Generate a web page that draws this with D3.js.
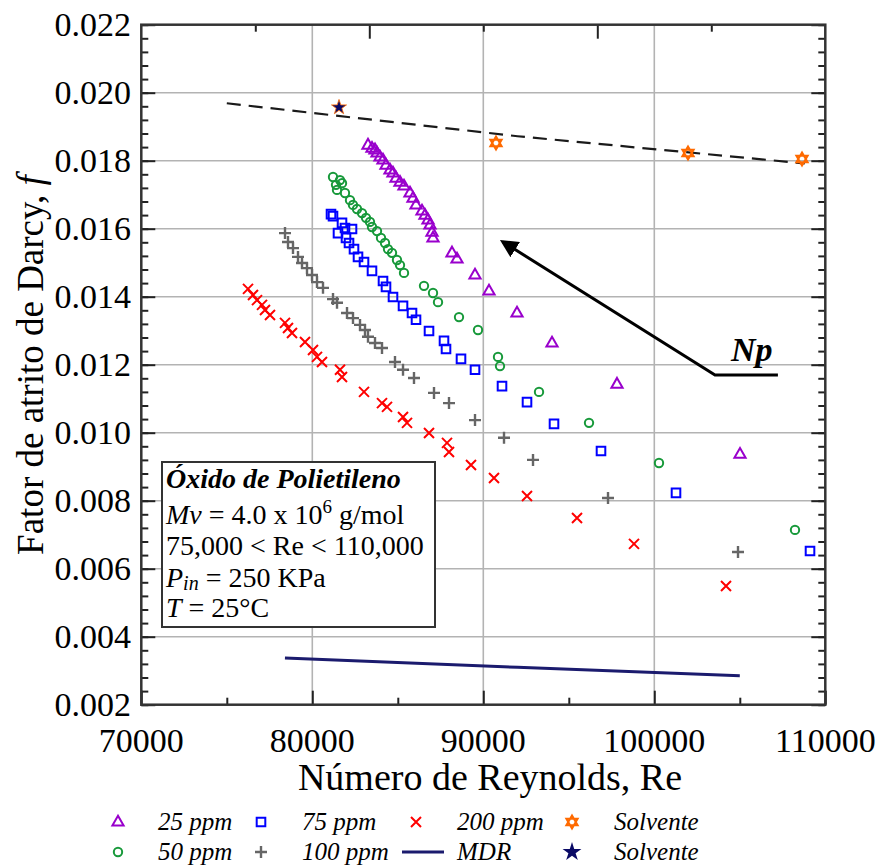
<!DOCTYPE html>
<html>
<head>
<meta charset="utf-8">
<script src="https://cdn.jsdelivr.net/npm/d3@7"></script>
<style>
  body { margin: 0; background: #fff; }
  svg text { font-family: "Liberation Serif", "Times New Roman", serif; }
</style>
</head>
<body>
<script>
// Re, f pairs
var ppm25 = [[83257,0.01846],[83491,0.01837],[83667,0.01832],[83784,0.01823],[83959,0.01811],[84135,0.01802],
  [84310,0.01787],[84544,0.01773],[84719,0.01764],[84895,0.01749],[85129,0.01737],[85363,0.01726],[85714,0.01705],
  [85889,0.01690],[86065,0.01670],[86415,0.01652],[86591,0.01640],[86766,0.01626],[86883,0.01611],[87000,0.01590],
  [87059,0.01573],[88170,0.01529],[88462,0.01511],[89515,0.01464],[90333,0.01417],[91971,0.01352],[94018,0.01264],
  [97819,0.01143],[105012,0.00937]];
var ppm50 = [[81211,0.01752],[81620,0.01743],[81386,0.01729],[81737,0.01734],[81445,0.01714],[81912,0.01705],
  [82205,0.01684],[82380,0.01670],[82614,0.01658],[82907,0.01646],[83141,0.01632],[83374,0.01620],[83491,0.01605],
  [83784,0.01593],[84018,0.01573],[84252,0.01558],[84427,0.01540],[84661,0.01529],[84953,0.01508],[85129,0.01493],
  [85363,0.01470],[86532,0.01432],[87059,0.01411],[87351,0.01384],[88579,0.01340],[89690,0.01302],[90860,0.01223],
  [90977,0.01196],[93258,0.01120],[96182,0.01029],[100275,0.00911],[108228,0.00714]];
var ppm75 = [[81094,0.01643],[81211,0.01637],[81737,0.01617],[81912,0.01602],[82322,0.01599],[81503,0.01587],
  [81971,0.01573],[82147,0.01558],[82439,0.01540],[82673,0.01517],[83024,0.01502],[83491,0.01476],[84135,0.01446],
  [84310,0.01429],[84719,0.01399],[85305,0.01373],[85831,0.01352],[86065,0.01332],[86825,0.01299],[87702,0.01270],
  [87819,0.01246],[88696,0.01217],[89515,0.01185],[91094,0.01137],[92556,0.01090],[94135,0.01026],[96883,0.00946],
  [101269,0.00823],[109106,0.00652]];
var ppm100 = [[78404,0.01587],[78579,0.01561],[78871,0.01543],[79164,0.01517],[79398,0.01499],[79690,0.01484],
  [79983,0.01464],[80275,0.01443],[80626,0.01426],[81211,0.01393],[81445,0.01382],[82030,0.01352],[82380,0.01337],
  [82790,0.01317],[83082,0.01302],[83257,0.01282],[83667,0.01264],[84076,0.01249],[84836,0.01208],[85305,0.01185],
  [85947,0.01161],[87117,0.01117],[87994,0.01087],[89515,0.01037],[91211,0.00985],[92907,0.00920],[97293,0.00808],
  [104895,0.00649]];
var ppm200 = [[76240,0.01423],[76532,0.01405],[76766,0.01390],[77059,0.01376],[77234,0.01361],[77526,0.01346],
  [78404,0.01323],[78579,0.01308],[78813,0.01293],[79573,0.01267],[80041,0.01243],[80275,0.01223],[80567,0.01208],
  [81620,0.01185],[81737,0.01164],[83024,0.01120],[84076,0.01087],[84369,0.01076],[85305,0.01046],[85538,0.01029],
  [86825,0.00999],[87877,0.00970],[87994,0.00943],[89281,0.00905],[90626,0.00867],[92556,0.00814],[95480,0.00749],
  [98813,0.00673],[104193,0.00549]];
var solventeExp = [[90743,0.01852],[101971,0.01823],[108638,0.01805]];
var solventeRef = [[81562,0.01957]];
var solventeLine = [[75000,0.01969],[92000,0.01872],[108800,0.01792]];
var mdrLine = [[78400,0.00337],[92000,0.00310],[105000,0.00285]];

var xTicks = [70000, 80000, 90000, 100000, 110000];
var yTicks = [0.002, 0.004, 0.006, 0.008, 0.010, 0.012, 0.014, 0.016, 0.018, 0.020, 0.022];
var topTicks = [76667, 83333, 90000, 96667, 103333];

var W = 879, H = 865;
var L = 141.3, R = 825.3, T = 24.7, B = 704.7;

var svg = d3.select("body").append("svg").attr("width", W).attr("height", H);

var x = d3.scaleLinear().domain([70000, 110000]).range([L, R]);
var y = d3.scaleLinear().domain([0.002, 0.022]).range([B, T]);

// grid
svg.append("g").selectAll("line").data(xTicks.slice(1, -1)).enter().append("line")
  .attr("x1", d => x(d)).attr("x2", d => x(d)).attr("y1", T).attr("y2", B)
  .attr("stroke", "#b3b3b3").attr("stroke-width", 1.6);
svg.append("g").selectAll("line").data(yTicks.slice(1, -1)).enter().append("line")
  .attr("y1", d => y(d)).attr("y2", d => y(d)).attr("x1", L).attr("x2", R)
  .attr("stroke", "#b3b3b3").attr("stroke-width", 1.6);

// axes (ticks inward)
var yMinor = d3.range(0.002, 0.0221, 0.0004);
var xMinor = d3.range(75000, 110000, 10000);
function axisLines(g, scale, axis, ticks, len) {
  g.call(axis(scale).tickValues(ticks).tickSize(-len).tickFormat(""));
  g.select(".domain").remove();
  g.selectAll(".tick line").attr("stroke", "#222").attr("stroke-width", 2);
}
axisLines(svg.append("g").attr("transform", "translate(" + L + ",0)"), y, d3.axisLeft, yMinor, 7);
axisLines(svg.append("g").attr("transform", "translate(" + L + ",0)"), y, d3.axisLeft, yTicks, 14);
axisLines(svg.append("g").attr("transform", "translate(" + R + ",0)"), y, d3.axisRight, yMinor, 7);
axisLines(svg.append("g").attr("transform", "translate(" + R + ",0)"), y, d3.axisRight, yTicks, 14);
axisLines(svg.append("g").attr("transform", "translate(0," + B + ")"), x, d3.axisBottom, xMinor, 7);
axisLines(svg.append("g").attr("transform", "translate(0," + B + ")"), x, d3.axisBottom, xTicks, 14);
axisLines(svg.append("g").attr("transform", "translate(0," + T + ")"), x, d3.axisTop, topTicks.filter((d, i) => i % 2 == 0), 7);
axisLines(svg.append("g").attr("transform", "translate(0," + T + ")"), x, d3.axisTop, topTicks.filter((d, i) => i % 2 == 1), 14);

svg.append("rect").attr("x", L).attr("y", T).attr("width", R - L).attr("height", B - T)
  .attr("fill", "none").attr("stroke", "#333").attr("stroke-width", 2.5);

// tick labels
svg.append("g").selectAll("text").data(yTicks).enter().append("text")
  .attr("x", 131).attr("y", d => y(d) + 11).attr("text-anchor", "end")
  .attr("font-size", 34).text(d => d3.format(".3f")(d));
svg.append("g").selectAll("text").data(xTicks).enter().append("text")
  .attr("x", d => x(d)).attr("y", 752).attr("text-anchor", "middle")
  .attr("font-size", 34).text(d => d);

// axis titles
svg.append("text").attr("x", 490).attr("y", 790).attr("text-anchor", "middle")
  .attr("font-size", 38).text("Número de Reynolds, Re");
var yt = svg.append("text").attr("transform", "translate(43,365) rotate(-90)")
  .attr("text-anchor", "middle").attr("font-size", 37);
yt.append("tspan").text("Fator de atrito de Darcy, ");
yt.append("tspan").attr("font-style", "italic").text("f");

// reference lines
var line = d3.line().x(d => x(d[0])).y(d => y(d[1]));
svg.append("path").attr("d", line(solventeLine)).attr("fill", "none")
  .attr("stroke", "#1a1a1a").attr("stroke-width", 2.2).attr("stroke-dasharray", "14,8");
svg.append("path").attr("d", line(mdrLine)).attr("fill", "none")
  .attr("stroke", "#1b1b6e").attr("stroke-width", 3);

// markers
function hexagram(s) {
  var p1 = [], p2 = [];
  for (var i = 0; i < 3; i++) {
    var a = -Math.PI / 2 + i * 2 * Math.PI / 3;
    p1.push([s * Math.cos(a), s * Math.sin(a)]);
    p2.push([s * Math.cos(a + Math.PI), s * Math.sin(a + Math.PI)]);
  }
  return "M" + p1.join("L") + "Z M" + p2.join("L") + "Z";
}
var marks = {
  tri: { d: "M0,-6.2L5.6,3.6L-5.6,3.6Z", color: "#9900cc", w: 2 },
  circ: { d: d3.symbol(d3.symbolCircle, 55)(), color: "#17993a", w: 2 },
  sq: { d: "M-4.3,-4.3H4.3V4.3H-4.3Z", color: "#0000ff", w: 2 },
  cross: { d: "M-5,-5L5,5M5,-5L-5,5", color: "#ff0000", w: 2 },
  plus: { d: "M-6,0H6M0,-6V6", color: "#666666", w: 2.4 },
  hex: { d: hexagram(6.5), color: "#ff6a00", w: 2 }
};
function drawSeries(data, m) {
  svg.append("g").selectAll("path").data(data).enter().append("path")
    .attr("transform", d => "translate(" + x(d[0]) + "," + y(d[1]) + ")")
    .attr("d", m.d).attr("fill", "none").attr("stroke", m.color).attr("stroke-width", m.w);
}
drawSeries(ppm25, marks.tri);
drawSeries(ppm50, marks.circ);
drawSeries(ppm75, marks.sq);
drawSeries(ppm100, marks.plus);
drawSeries(ppm200, marks.cross);
drawSeries(solventeExp, marks.hex);
var starPath = d3.symbol(d3.symbolStar, 70)();
svg.append("g").selectAll("path").data(solventeRef).enter().append("path")
  .attr("transform", d => "translate(" + x(d[0]) + "," + y(d[1]) + ")")
  .attr("d", starPath).attr("fill", "#0a0a66").attr("stroke", "#ff6a00").attr("stroke-width", 0.8);

// Np arrow
var npArrow = [[107229,0.01170],[103550,0.01170],[91152,0.01561]];
svg.append("defs").append("marker").attr("id", "ah").attr("viewBox", "0 0 10 10")
  .attr("refX", 8).attr("refY", 5).attr("markerWidth", 6).attr("markerHeight", 6)
  .attr("orient", "auto").append("path").attr("d", "M0,0L10,5L0,10Z").attr("fill", "#000");
svg.append("path").attr("d", line(npArrow)).attr("fill", "none")
  .attr("stroke", "#000").attr("stroke-width", 3).attr("marker-end", "url(#ah)");
svg.append("text").attr("x", x(105700)).attr("y", 361).attr("text-anchor", "middle")
  .attr("font-size", 34).attr("font-weight", "bold").attr("font-style", "italic").text("Np");

// info box
svg.append("rect").attr("x", 162).attr("y", 462).attr("width", 273).attr("height", 165)
  .attr("fill", "#fff").attr("stroke", "#333").attr("stroke-width", 2);
var bx = 166, fs = 28;
svg.append("text").attr("x", bx).attr("y", 488).attr("font-size", fs)
  .attr("font-weight", "bold").attr("font-style", "italic").text("Óxido de Polietileno");
var t2 = svg.append("text").attr("x", bx).attr("y", 524).attr("font-size", fs);
t2.append("tspan").attr("font-style", "italic").text("Mv");
t2.append("tspan").text(" = 4.0 x 10");
t2.append("tspan").attr("font-size", 19).attr("dy", -11).text("6");
t2.append("tspan").attr("dy", 11).text(" g/mol");
svg.append("text").attr("x", bx).attr("y", 555).attr("font-size", fs).text("75,000 < Re < 110,000");
var t4 = svg.append("text").attr("x", bx).attr("y", 587).attr("font-size", fs);
t4.append("tspan").attr("font-style", "italic").text("P");
t4.append("tspan").attr("font-style", "italic").attr("font-size", 20).attr("dy", 3).text("in");
t4.append("tspan").attr("dy", -3).text(" = 250 KPa");
var t5 = svg.append("text").attr("x", bx).attr("y", 617).attr("font-size", fs);
t5.append("tspan").attr("font-style", "italic").text("T");
t5.append("tspan").text(" = 25°C");

// legend
var legend = [
  { m: "tri", label: "25 ppm", sx: 118, tx: 158, row: 0 },
  { m: "sq", label: "75 ppm", sx: 261, tx: 302, row: 0 },
  { m: "cross", label: "200 ppm", sx: 416, tx: 457, row: 0 },
  { m: "hex", label: "Solvente", sx: 572, tx: 614, row: 0 },
  { m: "circ", label: "50 ppm", sx: 118, tx: 158, row: 1 },
  { m: "plus", label: "100 ppm", sx: 261, tx: 302, row: 1 },
  { m: "mdr", label: "MDR", sx: 423, tx: 457, row: 1 },
  { m: "star", label: "Solvente", sx: 572, tx: 614, row: 1 }
];
var rowY = [822, 852];
legend.forEach(function(d) {
  var cy = rowY[d.row];
  if (d.m == "mdr") {
    svg.append("line").attr("x1", d.sx - 21).attr("x2", d.sx + 21).attr("y1", cy).attr("y2", cy)
      .attr("stroke", "#1b1b6e").attr("stroke-width", 3);
  } else if (d.m == "star") {
    svg.append("path").attr("transform", "translate(" + d.sx + "," + cy + ")")
      .attr("d", d3.symbol(d3.symbolStar, 110)()).attr("fill", "#0a0a66");
  } else {
    var m = marks[d.m];
    svg.append("path").attr("transform", "translate(" + d.sx + "," + cy + ")")
      .attr("d", m.d).attr("fill", "none").attr("stroke", m.color).attr("stroke-width", m.w);
  }
  svg.append("text").attr("x", d.tx).attr("y", cy + 8).attr("font-size", 25)
    .attr("font-style", "italic").text(d.label);
});
</script>
</body>
</html>
